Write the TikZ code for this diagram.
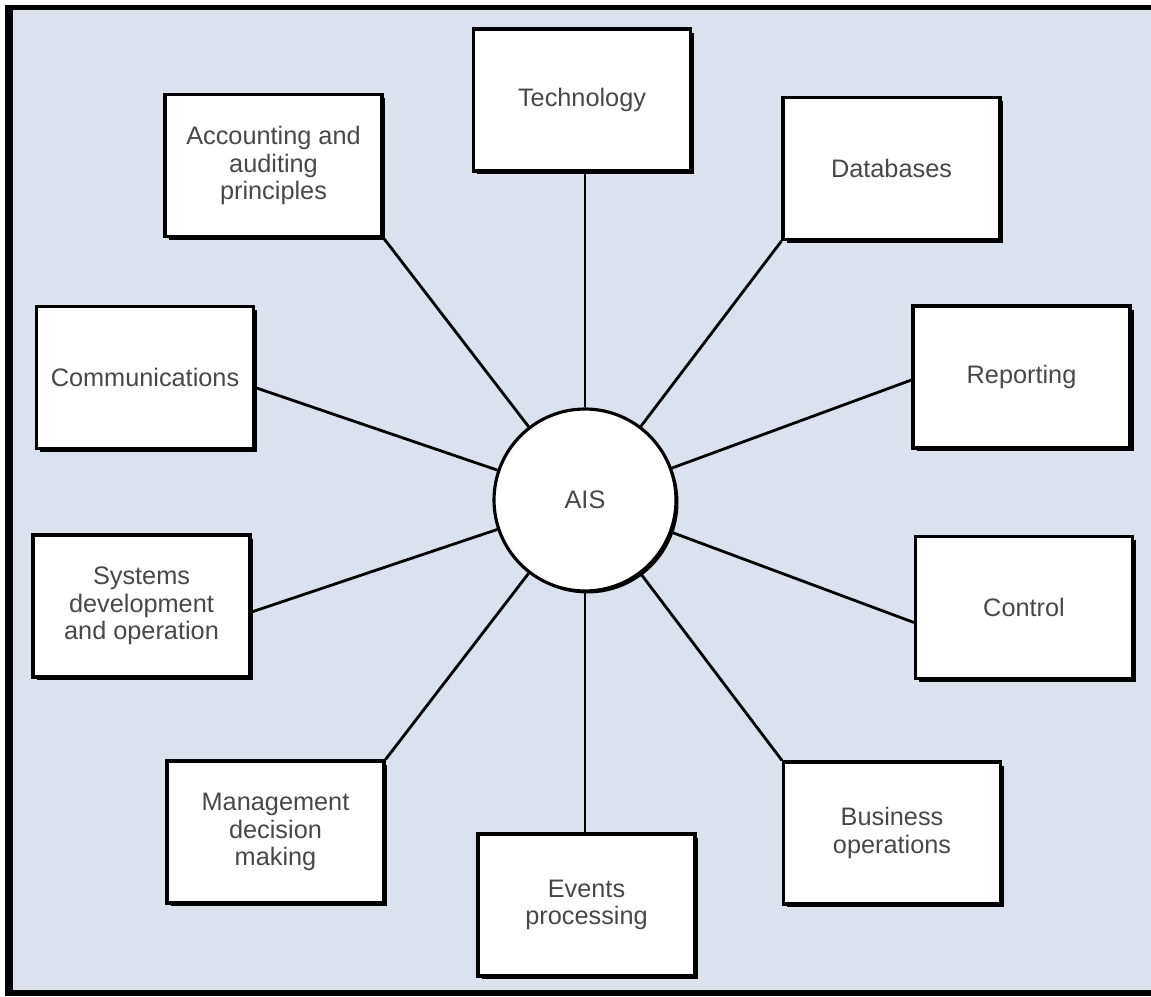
\documentclass[tikz,border=0pt]{standalone}
\usepackage{fontspec}
\setmainfont{Liberation Sans}
\usepackage{tikz}
\usetikzlibrary{calc,shadows}
\definecolor{aisbg}{RGB}{220,225,238}
\definecolor{aistext}{RGB}{72,72,72}
\tikzstyle{cbox}=[rectangle, draw, line width=1.8pt, fill=white, minimum width=4.34cm, minimum height=2.84cm, align=center, text=aistext, font=\fontsize{14.4}{15.8}\selectfont, drop shadow={shadow xshift=0.07cm, shadow yshift=-0.07cm, opacity=1, fill=black}]
\tikzstyle{ccirc}=[circle, draw, line width=1.8pt, fill=white, minimum size=3.64cm, text=aistext, font=\fontsize{14.4}{15.8}\selectfont, drop shadow={shadow xshift=0.05cm, shadow yshift=-0.05cm, opacity=1, fill=black}]
\tikzstyle{clink}=[line width=1.6pt]

\begin{document}
\begin{tikzpicture}[x=0.02cm, y=-0.02cm]
	%%% frame and background
	\useasboundingbox (0,0) rectangle (1151,996);
	\fill[white] (0,0) rectangle (1151,996);
	\fill[aisbg] (13,10) rectangle (1151,990);
	% black bars left, top and bottom only
	\fill[black] (5,5) rectangle (13,996);
	\fill[black] (5,5) rectangle (1151,10);
	\fill[black] (5,990) rectangle (1151,996);

	%%% hub
	\node[ccirc] (ais) at (585,500) {AIS};

	%%% top row
	\node[cbox] (tech) at (582,100) {Technology};
	\node[cbox] (acct) at (273.5,165.5) {Accounting and\\auditing\\principles};
	\node[cbox] (db) at (891.5,168.5) {Databases};

	%%% left and right
	\node[cbox] (comm) at (145,377.5) {Communications};
	\node[cbox] (rep) at (1021.5,377) {Reporting};
	\node[cbox] (sysdev) at (141.5,606) {Systems\\development\\and operation};
	\node[cbox] (ctrl) at (1024,607.5) {Control};

	%%% bottom row
	\node[cbox] (mgmt) at (275.5,832) {Management\\decision\\making};
	\node[cbox] (events) at (586.5,905) {Events\\processing};
	\node[cbox] (busops) at (892,833) {Business\\operations};

	% spokes, all aimed at the hub centre
	\draw[clink] (ais |- tech.south) -- (ais);
	\draw[clink] (acct.south east) -- (ais);
	\draw[clink] (db.south west) -- (ais);
	\draw[clink] ($(comm.east)+(0,10)$) -- (ais);
	\draw[clink] ($(rep.west)+(0,3)$) -- (ais);
	\draw[clink] ($(sysdev.east)+(0,6)$) -- (ais);
	\draw[clink] ($(ctrl.west)+(0,15)$) -- (ais);
	\draw[clink] (mgmt.north east) -- (ais);
	\draw[clink] (ais |- events.north) -- (ais);
	\draw[clink] (busops.north west) -- (ais);
\end{tikzpicture}
\end{document}
